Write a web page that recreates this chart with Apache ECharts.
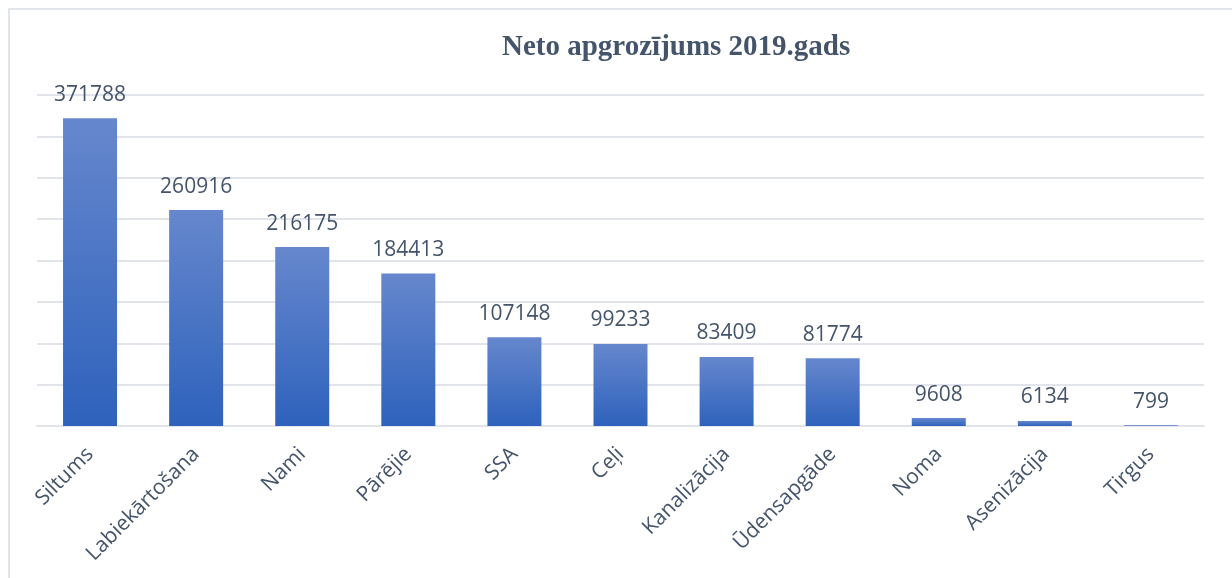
<!DOCTYPE html>
<html>
<head>
<meta charset="utf-8">
<script src="https://cdn.jsdelivr.net/npm/echarts@6/dist/echarts.min.js"></script>
<style>
  html, body { margin: 0; padding: 0; background: #fff; overflow: hidden; }
  #frame {
    position: absolute; left: 8px; top: 8px;
    width: 1260px; height: 600px;
    border: 2px solid #e1e4ea;
  }
  #chart { position: absolute; left: 0; top: 0; width: 1232px; height: 578px; }
</style>
</head>
<body>
<div id="frame"></div>
<div id="chart"></div>
<script>
// dati
const categories = ['Siltums', 'Labiekārtošana', 'Nami', 'Pārējie', 'SSA', 'Ceļi',
  'Kanalizācija', 'Ūdensapgāde', 'Noma', 'Asenizācija', 'Tirgus']
const values = [371788, 260916, 216175, 184413, 107148, 99233, 83409, 81774, 9608, 6134, 799]

const textColor = '#44546a'
const gridColor = '#e1e4ea'

const chart = echarts.init(document.getElementById('chart'))

const option = {
  backgroundColor: 'transparent',
  animation: false,
  title: {
    text: 'Neto apgrozījums 2019.gads',
    left: 497,
    top: 28,
    textStyle: {
      fontFamily: '"Liberation Serif", "Times New Roman", serif',
      fontWeight: 'bold',
      fontSize: 29,
      color: textColor
    }
  },
  grid: {
    left: 37,
    right: 28,
    top: 95,
    bottom: 152
  },
  xAxis: {
    type: 'category',
    data: categories,
    axisLine: { show: true, lineStyle: { color: gridColor, width: 2 } },
    axisTick: { show: false },
    axisLabel: {
      rotate: 45,
      margin: 25,
      fontFamily: '"Open Sans", sans-serif',
      fontSize: 21,
      color: textColor
    }
  },
  yAxis: {
    type: 'value',
    min: 0,
    max: 400000,
    interval: 50000,
    axisLine: { show: false },
    axisTick: { show: false },
    axisLabel: { show: false },
    splitLine: { lineStyle: { color: gridColor, width: 2 } }
  },
  series: [
    {
      type: 'bar',
      data: values,
      barWidth: 54,
      itemStyle: {
        color: {
          type: 'linear',
          x: 0, y: 0, x2: 0, y2: 1,
          colorStops: [
            { offset: 0, color: '#6687cd' },
            { offset: 1, color: '#2e62bc' }
          ]
        }
      },
      label: {
        show: true,
        position: 'top',
        distance: 13,
        fontFamily: '"Open Sans", sans-serif',
        fontSize: 21,
        color: textColor
      }
    }
  ]
}

chart.setOption(option)
</script>
</body>
</html>
